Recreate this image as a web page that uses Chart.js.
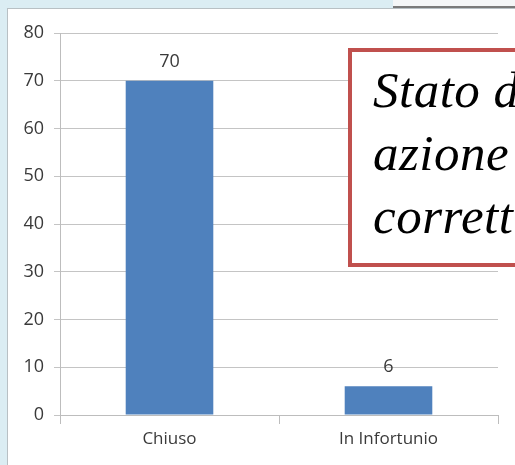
<!DOCTYPE html>
<html>
<head>
<meta charset="utf-8">
<script src="https://cdn.jsdelivr.net/npm/chart.js@4/dist/chart.umd.min.js"></script>
<style>
  html, body { margin: 0; padding: 0; width: 515px; height: 465px; overflow: hidden; background: #dbedf3; }
  #panel { position: absolute; left: 7px; top: 8px; width: 520px; height: 470px; background: #fff; border: 1px solid #b8c0c4; }
  #topRight { position: absolute; left: 393px; top: 0; width: 130px; height: 6px; background: #f4f6f7; border-bottom: 2px solid #7a7a7a; }
  #wrap { position: absolute; left: 0; top: 0; width: 515px; height: 465px; }
  #note {
    position: absolute; left: 348px; top: 48px; width: 230px; height: 219px;
    background: #fff; border: 4px solid #c0504d;
    font-family: "Liberation Serif", serif; font-style: italic; font-size: 51px;
    letter-spacing: 0.5px;
    line-height: 63px; color: #000; padding: 7px 0 0 21px; box-sizing: border-box;
    white-space: nowrap;
  }
</style>
</head>
<body>
<div id="panel"></div>
<div id="topRight"></div>
<div id="wrap"><canvas id="myChart" width="515" height="465"></canvas></div>
<div id="note">Stato dell'<br>azione<br>correttiva</div>
<script>
const labels = ["Chiuso", "In Infortunio"];
const values = [70, 6];

const valueLabels = {
  id: "valueLabels",
  afterDatasetsDraw(chart) {
    const ctx = chart.ctx;
    ctx.save();
    ctx.font = "18px 'Open Sans'";
    ctx.fillStyle = "#3a3a3a";
    ctx.textAlign = "center";
    ctx.textBaseline = "alphabetic";
    chart.getDatasetMeta(0).data.forEach((bar, i) => {
      ctx.fillText(values[i], bar.x, bar.y - 14);
    });
    ctx.restore();
  },
};

new Chart("myChart", {
  type: "bar",
  data: {
    labels: labels,
    datasets: [
      {
        data: values,
        backgroundColor: "#4f81bd",
        barPercentage: 0.4,
        categoryPercentage: 1,
      },
    ],
  },
  options: {
    responsive: false,
    animation: false,
    layout: { padding: { top: 33, right: 17, left: 0, bottom: 0 } },
    plugins: { legend: { display: false }, tooltip: { enabled: false } },
    scales: {
      y: {
        min: 0,
        max: 80,
        ticks: { stepSize: 10, padding: 10, color: "#3a3a3a", font: { family: "Open Sans", size: 18 } },
        grid: { color: "#c4c4c4", tickLength: 6 },
        border: { color: "#bdbdbd" },
        afterFit(scale) { scale.width = 60; },
      },
      x: {
        ticks: { padding: 5, color: "#3a3a3a", font: { family: "Open Sans", size: 17 } },
        grid: { drawOnChartArea: false, color: "#bdbdbd", tickLength: 9 },
        border: { color: "#bdbdbd" },
        afterFit(scale) { scale.height = 50; },
      },
    },
  },
  plugins: [valueLabels],
});
</script>
</body>
</html>
